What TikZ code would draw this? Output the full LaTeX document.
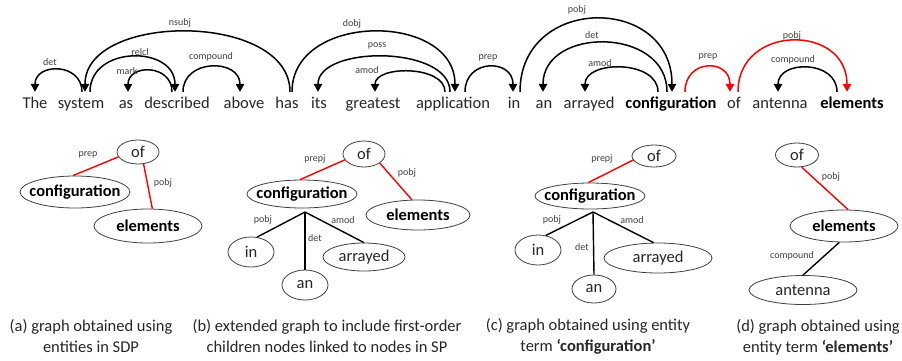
\documentclass[tikz,border=0pt]{standalone}
\usepackage{fontspec}
\setmainfont{Carlito}
\usetikzlibrary{shapes.geometric,arrows.meta,calc}
\definecolor{ink}{HTML}{262626}
\definecolor{lbl}{HTML}{404040}
\definecolor{ellc}{HTML}{404040}
\definecolor{deprd}{HTML}{FF0000}

% dependency arc: [style]{from}{dx}{to}{dx}{top y}
\newcommand\deparc[6][]{%
  \draw[dep,#1] ([xshift=#3pt,yshift=3pt]#2.north)
    .. controls +(0,{(#6-92)*4/3}) and +(0,{(#6-92)*4/3}) ..
    ([xshift=#5pt,yshift=3pt]#4.north);}

\tikzset{
  word/.style={anchor=base, inner sep=0pt, text height=13pt, text depth=3.5pt,
    font=\fontsize{16.5}{18}\selectfont, text=ink},
  bword/.style={word, font=\fontsize{16.5}{18}\selectfont\bfseries, text=black},
  lab/.style={font=\fontsize{10}{11}\selectfont, text=lbl, inner sep=0pt},
  dep/.style={line width=1.5pt, -{Triangle[length=8pt,width=8.5pt]}},
  ell/.style={ellipse, draw=ellc, line width=0.8pt, inner sep=0pt,
    font=\fontsize{16.5}{18}\selectfont, text=ink},
  bell/.style={ell, font=\fontsize{16.5}{18}\selectfont\bfseries, text=black},
  blk/.style={line width=1.4pt, black},
  rdl/.style={line width=1.4pt, deprd},
  captext/.style={align=center, inner sep=0pt, text=ink,
    font=\fontsize{16.5}{21}\selectfont},
}

\begin{document}
\begin{tikzpicture}[x=1pt,y=-1pt]
\useasboundingbox (0,0) rectangle (902,360);
\fill[white] (0,0) rectangle (902,360);

% ---------------- sentence ----------------
\node[word]  (w1)  at (35,108)  {The};
\node[word]  (w2)  at (81,108)  {system};
\node[word]  (w3)  at (126,108) {as};
\node[word]  (w4)  at (177,108) {described};
\node[word]  (w5)  at (244,108) {above};
\node[word]  (w6)  at (287,108) {has};
\node[word]  (w7)  at (319,108) {its};
\node[word]  (w8)  at (373,108) {greatest};
\node[word]  (w9)  at (453,108) {application};
\node[word]  (w10) at (514,108) {in};
\node[word]  (w11) at (544,108) {an};
\node[word]  (w12) at (589,108) {arrayed};
\node[bword] (w13) at (671,108) {configuration};
\node[word]  (w14) at (734,108) {of};
\node[word]  (w15) at (780,108) {antenna};
\node[bword] (w16) at (852,108) {elements};

% dependency arcs
\deparc{w2}{1}{w1}{0}{70}
\deparc{w6}{3}{w2}{4}{32}
\deparc{w2}{9}{w4}{-2}{57}
\deparc{w4}{-5}{w3}{2}{71}
\deparc{w4}{6}{w5}{-4}{67}
\deparc{w6}{5}{w9}{2}{32}
\deparc{w9}{-3}{w7}{-1}{57}
\deparc{w9}{-8}{w8}{2}{72}
\deparc{w9}{12}{w10}{-1}{67}
\deparc{w10}{6}{w13}{1}{19}
\deparc{w13}{-4}{w11}{-1}{43}
\deparc{w13}{-13}{w12}{-4}{68}
\deparc[deprd]{w13}{14}{w14}{-4}{67}
\deparc[deprd]{w14}{4}{w16}{-5}{41}
\deparc{w16}{-15}{w15}{-2}{68}

% arc labels
\node[lab] (l1)  at (50,62)  {det};
\node[lab] (l2)  at (180,23) {nsubj};
\node[lab] (l3)  at (140,52) {relcl};
\node[lab] (l4)  at (127,71) {mark};
\node[lab] (l5)  at (211,57) {compound};
\node[lab] (l6)  at (352,24) {dobj};
\node[lab] (l7)  at (377,46) {poss};
\node[lab] (l8)  at (367,70) {amod};
\node[lab] (l9)  at (488,58) {prep};
\node[lab] (l10) at (577,10) {pobj};
\node[lab] (l11) at (592,35) {det};
\node[lab] (l12) at (600,63) {amod};
\node[lab] (l13) at (708,57) {prep};
\node[lab] (l14) at (792,36) {pobj};
\node[lab] (l15) at (793,60) {compound};

% ---------------- graph (a) ----------------
\node[ell,  minimum width=42pt,  minimum height=24pt] (a-of)   at (138,152) {\makebox[0pt]{of}};
\node[bell, minimum width=110pt, minimum height=32pt] (a-conf) at (75,192)  {\makebox[0pt]{configuration}};
\node[bell, minimum width=108pt, minimum height=34pt] (a-elem) at (148,226) {\makebox[0pt]{elements}};
\draw[rdl] (a-of.194) -- (a-conf.97);
\draw[rdl] (a-of.295) -- (a-elem.76);
\node[lab] (a-l1) at (88,155)  {prep};
\node[lab] (a-l2) at (163,183) {pobj};

% ---------------- graph (b) ----------------
\node[ell,  minimum width=42pt,  minimum height=26pt] (b-of)   at (364,154) {\makebox[0pt]{of}};
\node[bell, minimum width=110pt, minimum height=28pt] (b-conf) at (302,194) {\makebox[0pt]{configuration}};
\node[bell, minimum width=104pt, minimum height=30pt] (b-elem) at (418,215) {\makebox[0pt]{elements}};
\node[ell,  minimum width=46pt,  minimum height=30pt] (b-in)   at (251,252) {\makebox[0pt]{in}};
\node[ell,  minimum width=82pt,  minimum height=28pt] (b-arr)  at (364,257) {\makebox[0pt]{arrayed}};
\node[ell,  minimum width=46pt,  minimum height=30pt] (b-an)   at (305,285) {\makebox[0pt]{an}};
\coordinate (b-hub) at (305,212);
\draw[rdl] (b-of.197) -- (b-conf.98);
\draw[rdl] (b-of.330) -- (b-elem.112);
\draw[blk] (b-hub) -- (b-in.68);
\draw[blk] (b-hub) -- (b-an.north);
\draw[blk] (b-hub) -- (b-arr.north);
\node[lab] (b-l1) at (315,159) {prepj};
\node[lab] (b-l2) at (407,173) {pobj};
\node[lab] (b-l3) at (263,220) {pobj};
\node[lab] (b-l4) at (315,238) {det};
\node[lab] (b-l5) at (343,220) {amod};

% ---------------- graph (c) ----------------
\node[ell,  minimum width=44pt,  minimum height=22pt] (c-of)   at (654,156) {\makebox[0pt]{of}};
\node[bell, minimum width=110pt, minimum height=26pt] (c-conf) at (590,196) {\makebox[0pt]{configuration}};
\node[ell,  minimum width=46pt,  minimum height=30pt] (c-in)   at (538,250) {\makebox[0pt]{in}};
\node[ell,  minimum width=108pt, minimum height=30pt] (c-arr)  at (658,258) {\makebox[0pt]{arrayed}};
\node[ell,  minimum width=44pt,  minimum height=28pt] (c-an)   at (594,289) {\makebox[0pt]{an}};
\coordinate (c-hub) at (593,212);
\draw[rdl] (c-of.191) -- (c-conf.97);
\draw[blk] (c-hub) -- (c-in.62);
\draw[blk] (c-hub) -- (c-an.north);
\draw[blk] (c-hub) -- (c-arr.106);
\node[lab] (c-l1) at (602,159) {prepj};
\node[lab] (c-l2) at (552,220) {pobj};
\node[lab] (c-l3) at (582,247) {det};
\node[lab] (c-l4) at (632,220) {amod};

% ---------------- graph (d) ----------------
\node[ell,  minimum width=43pt,  minimum height=24pt] (d-of)   at (797,155) {\makebox[0pt]{of}};
\node[bell, minimum width=108pt, minimum height=32pt] (d-elem) at (844,226) {\makebox[0pt]{elements}};
\node[ell,  minimum width=108pt, minimum height=29pt] (d-ant)  at (803,290) {\makebox[0pt]{antenna}};
\draw[rdl] (d-of.291) -- (d-elem.76);
\draw[blk] (d-elem.254) -- (d-ant.north);
\node[lab] (d-l1) at (831,177) {pobj};
\node[lab] (d-l2) at (792,256) {compound};

% ---------------- captions ----------------
\node[captext] (cap-a) at (91,336)  {(a) graph obtained using\\entities in SDP};
\node[captext] (cap-b) at (327,336) {(b) extended graph to include first-order\\children nodes linked to nodes in SP};
\node[captext] (cap-c) at (588,336) {(c) graph obtained using entity\\term \textbf{‘configuration’}};
\node[captext] (cap-d) at (818,337) {(d) graph obtained using\\entity term \textbf{‘elements’}};
\end{tikzpicture}
\end{document}
